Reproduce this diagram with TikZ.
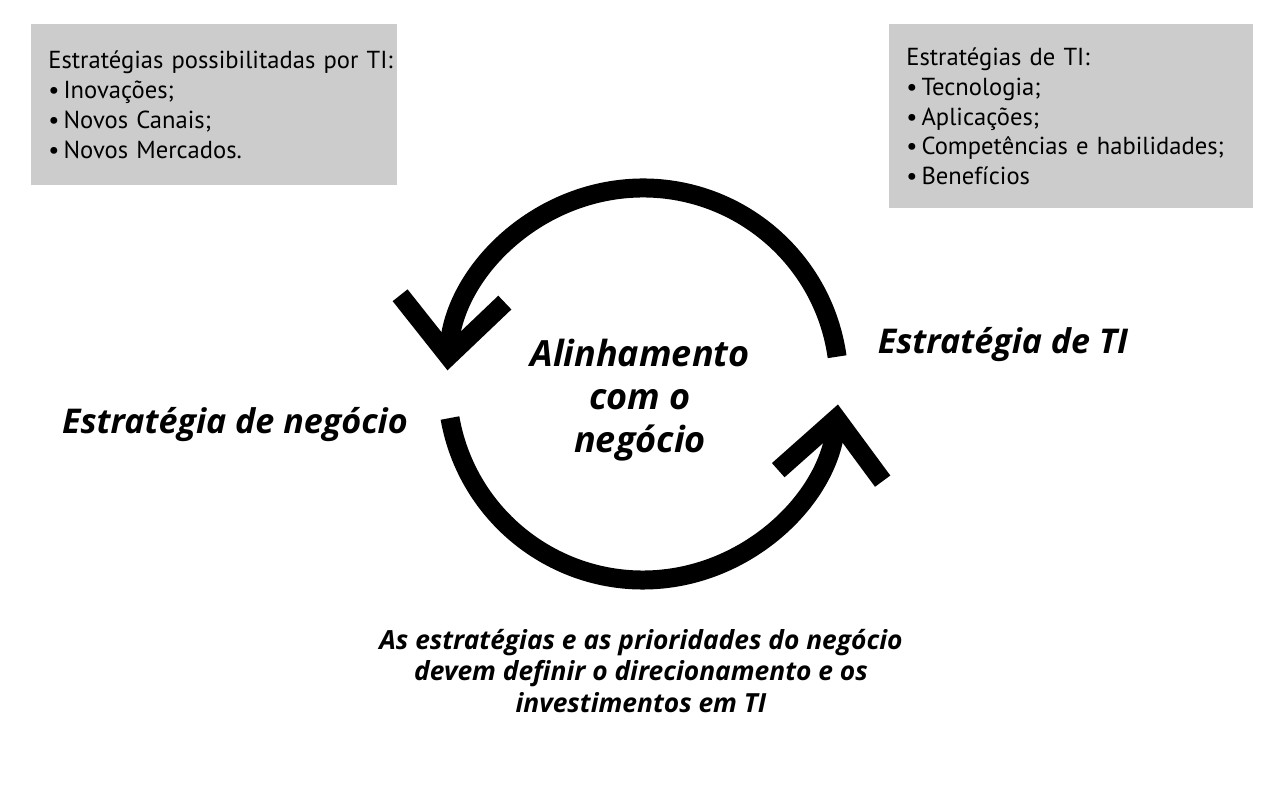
\documentclass[tikz,border=0pt]{standalone}
\usepackage{fontspec}
\setmainfont{PT Sans}[WordSpace=0.85]
\newfontfamily\labelfont{Open Sans}
\usetikzlibrary{arrows.meta}

\begin{document}
\begin{tikzpicture}[x=0.02cm,y=0.02cm,
  infobox/.style={fill=black!20,anchor=north west,inner xsep=0.34cm,align=left,font=\fontsize{14}{17}\selectfont},
  biglabel/.style={font=\labelfont\bfseries\itshape\fontsize{19.4}{24.4}\selectfont,align=center},
  cyclearrow/.style={line width=0.38cm,-{Straight Barb[length=1.15cm,width=2.1cm,sharp]}}]
\useasboundingbox (0,0) rectangle (1280,800);
\node[infobox,minimum width=7.32cm,minimum height=3.22cm,text width=6.64cm] (porti) at (31,776)
  {\mbox{Estratégias possibilitadas por TI:}\\ •\,Inovações;\\ •\,Novos Canais;\\ •\,Novos Mercados.};
\node[infobox,minimum width=7.28cm,minimum height=3.68cm,text width=6.6cm] (deti) at (889,776)
  {Estratégias de TI:\\ •\,Tecnologia;\\ •\,Aplicações;\\ •\,Competências e habilidades;\\ •\,Benefícios};
\coordinate (c) at (643,416);
\draw[cyclearrow] ([shift={(8:196)}]c) arc[start angle=8,end angle=176,radius=196];
\draw[cyclearrow] ([shift={(190:196)}]c) arc[start angle=190,end angle=354,radius=196];
\node[biglabel] (negocio) at (235,375) {Estratégia de negócio};
\node[biglabel] (estti) at (1003,455) {Estratégia de TI};
\node[biglabel,font=\labelfont\bfseries\itshape\fontsize{20.5}{24.4}\selectfont] (alinh) at (640,400) {Alinhamento\\com o\\negócio};
\node[biglabel,font=\labelfont\bfseries\itshape\fontsize{15}{18.1}\selectfont] (nota) at (641,129)
  {As estratégias e as prioridades do negócio\\devem definir o direcionamento e os\\investimentos em TI};
\end{tikzpicture}
\end{document}
